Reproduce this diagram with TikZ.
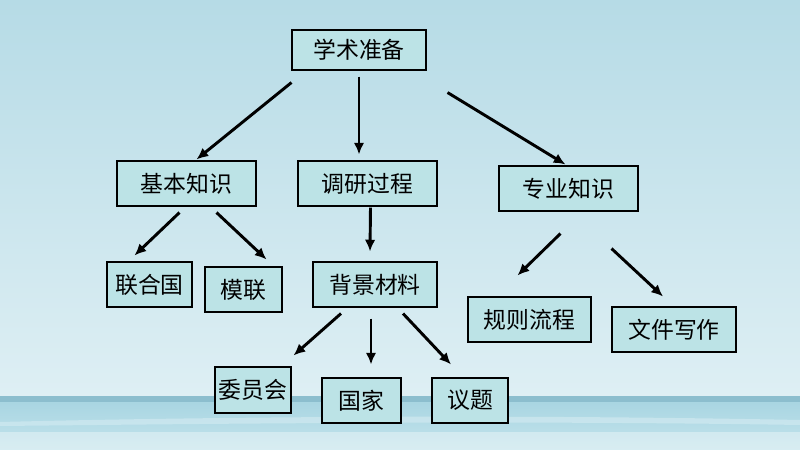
\documentclass[tikz,border=0pt]{standalone}
\usepackage{fontspec}
\newfontfamily\cjk{Noto Sans CJK SC}
\usetikzlibrary{arrows.meta}

\definecolor{skytop}{RGB}{182,219,230}
\definecolor{skylow}{RGB}{222,239,244}
\definecolor{seadark}{RGB}{140,190,206}
\definecolor{seamid}{RGB}{166,212,225}
\definecolor{sealow}{RGB}{196,228,236}
\definecolor{boxfill}{RGB}{188,227,230}

\tikzset{
    box/.style={draw=black, line width=0.9pt, fill=boxfill, inner sep=0pt,
                minimum height=45*0.03cm, font=\cjk\fontsize{19.5}{22}\selectfont},
    boxw/.style={minimum width=#1*0.03cm},
    boxh/.style={minimum height=#1*0.03cm},
    arr/.style={line width=2.5pt, -{Latex[length=10pt,width=9pt]}},
}

\begin{document}
\begin{tikzpicture}[x=0.03cm, y=-0.03cm]
    \useasboundingbox (0,0) rectangle (800,450);

    % background
    \shade[top color=skytop, bottom color=skylow] (0,0) rectangle (800,397);
    \shade[top color=seamid, bottom color=sealow] (0,397) rectangle (800,450);
    \fill[seadark] (0,396) rectangle (800,402);
    \fill[sealow!80!white, opacity=0.7] (0,422) .. controls (200,417) and (500,414) .. (800,420)
        -- (800,425) .. controls (500,420) and (200,424) .. (0,426) -- cycle;
    \fill[white, opacity=0.35] (0,432) rectangle (800,450);

    % nodes
    \node[box, boxw=134, boxh=40] (zhunbei) at (359,  50) {学术准备};
    \node[box, boxw=139] (jiben)     at (186.5,183.5) {基本知识};
    \node[box, boxw=139] (diaoyan)   at (367.5,183.5) {调研过程};
    \node[box, boxw=139] (zhuanye)   at (568.5,188.5) {专业知识};
    \node[box, boxw=85]  (lianheguo) at (149.5,284.5) {联合国};
    \node[box, boxw=77]  (molian)    at (243.5,289.5) {模联};
    \node[box, boxw=124] (beijing)   at (375,  284.5) {背景材料};
    \node[box, boxw=123] (guize)     at (529.5,319.5) {规则流程};
    \node[box, boxw=124] (wenjian)   at (674,  329.5) {文件写作};
    \node[box, boxw=76, boxh=46] (weiyuan) at (253,390) {委员会};
    \node[box, boxw=79]  (guojia)    at (361.5,400.5) {国家};
    \node[box, boxw=76]  (yiti)      at (470,  400.5) {议题};

    % arrows
    \draw[arr] ([shift={(0,12)}]zhunbei.south west) -- ([shift={(10,-1)}]jiben.north);
    \draw[arr] ([shift={(0,6)}]zhunbei.south)       -- ([shift={(-8.5,-6)}]diaoyan.north);
    \draw[arr] ([shift={(21,22)}]zhunbei.south east) -- ([shift={(-3,-1)}]zhuanye.north);

    \draw[arr] ([shift={(-7,6)}]jiben.south)  -- ([shift={(-15,-6)}]lianheguo.north);
    \draw[arr] ([shift={(30,6)}]jiben.south)  -- ([shift={(23,-7)}]molian.north);
    \draw[arr] ([shift={(3,1)}]diaoyan.south) -- ([shift={(-5,-10)}]beijing.north);

    \draw[arr] ([shift={(-8,22)}]zhuanye.south) -- ([shift={(-12,-21)}]guize.north);
    \draw[arr] ([shift={(43,37)}]zhuanye.south) -- ([shift={(-11,-10)}]wenjian.north);

    \draw[arr] ([shift={(-34,6)}]beijing.south) -- ([shift={(2,-11)}]weiyuan.north east);
    \draw[arr] ([shift={(-4,11)}]beijing.south) -- ([shift={(9.5,-13)}]guojia.north);
    \draw[arr] ([shift={(28,6)}]beijing.south)  -- ([shift={(-19,-13)}]yiti.north);
\end{tikzpicture}
\end{document}
